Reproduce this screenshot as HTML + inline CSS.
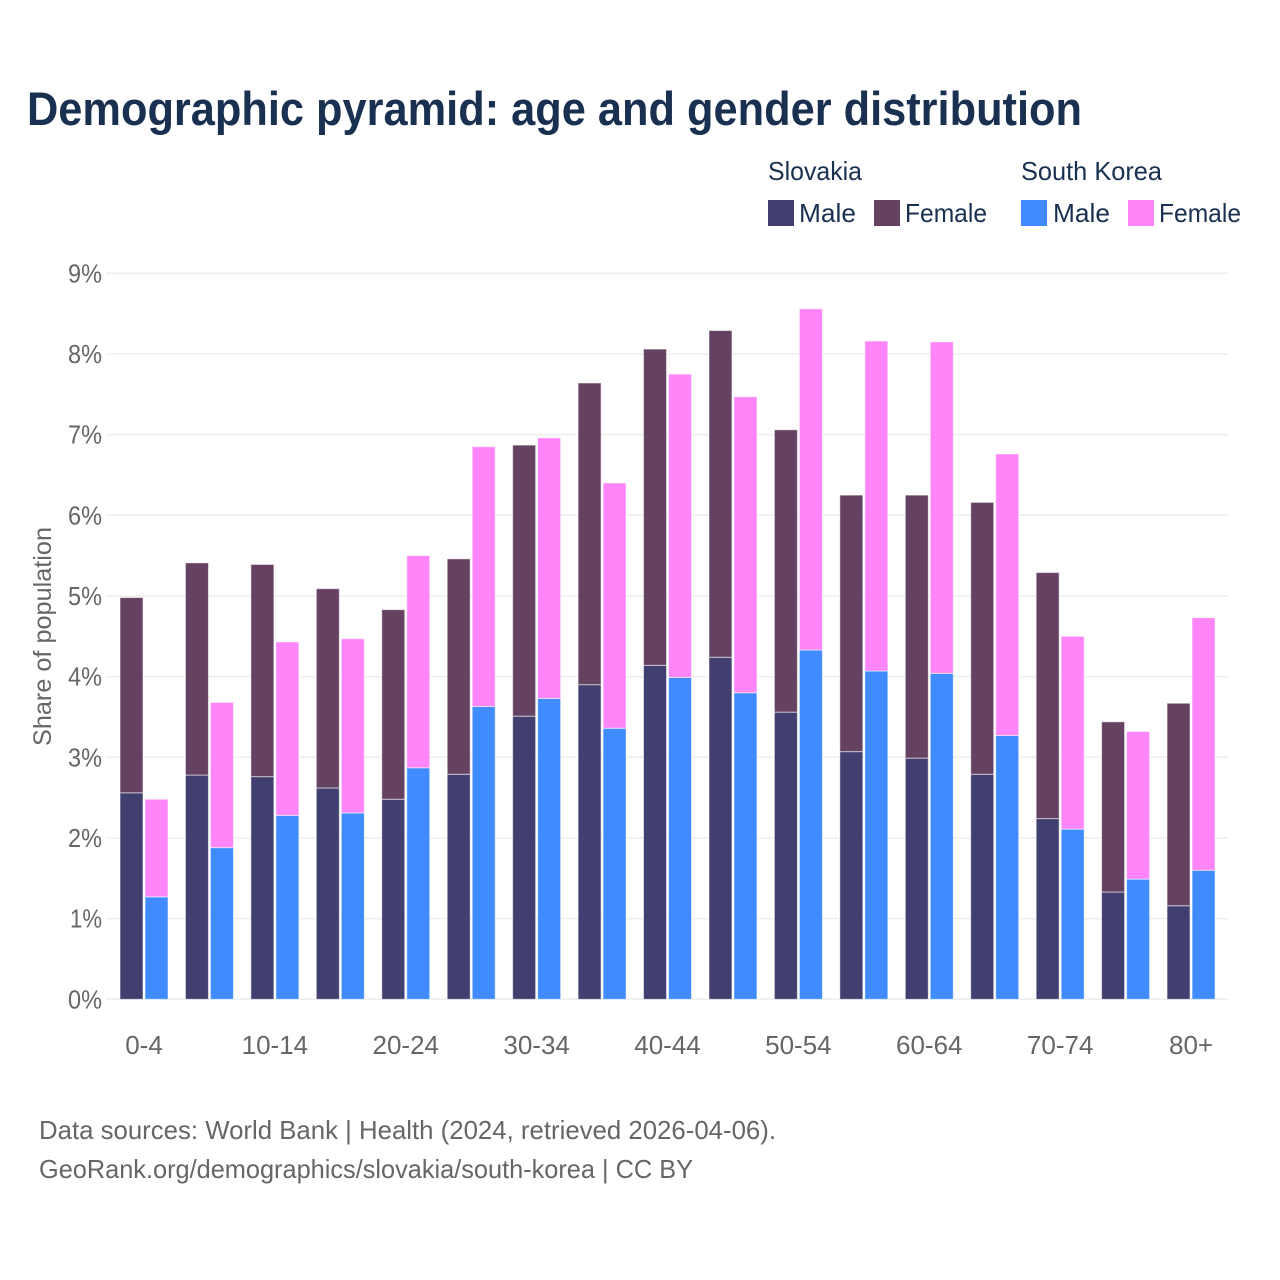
<!DOCTYPE html>
<html lang="en">
<head>
<meta charset="utf-8">
<title>Demographic pyramid: age and gender distribution</title>
<style>
html,body{margin:0;padding:0;background:#fff;width:1280px;height:1280px;overflow:hidden}
svg{display:block;font-family:"Liberation Sans",sans-serif}
</style>
</head>
<body>
<svg id="chart" width="1280" height="1280" viewBox="0 0 1280 1280" xmlns="http://www.w3.org/2000/svg">
  <rect width="1280" height="1280" fill="#ffffff"/>
  <text x="27" y="125" font-size="47" font-weight="700" fill="#1a3050" textLength="1055" lengthAdjust="spacingAndGlyphs">Demographic pyramid: age and gender distribution</text>

  <g font-size="26" fill="#1a3050">
    <text x="768" y="180" textLength="94" lengthAdjust="spacingAndGlyphs">Slovakia</text>
    <text x="1021" y="180" textLength="141" lengthAdjust="spacingAndGlyphs">South Korea</text>
    <rect x="768" y="200" width="26" height="26" fill="#413f6f"/>
    <text x="799" y="222" textLength="57" lengthAdjust="spacingAndGlyphs">Male</text>
    <rect x="874" y="200" width="26" height="26" fill="#654262"/>
    <text x="905" y="222" textLength="82" lengthAdjust="spacingAndGlyphs">Female</text>
    <rect x="1021" y="200" width="26" height="26" fill="#3f8bff"/>
    <text x="1053" y="222" textLength="57" lengthAdjust="spacingAndGlyphs">Male</text>
    <rect x="1128" y="200" width="26" height="26" fill="#ff85f8"/>
    <text x="1159" y="222" textLength="82" lengthAdjust="spacingAndGlyphs">Female</text>
  </g>

  <g id="grid"></g>
  <g id="bars"></g>
  <g id="yticks"></g>
  <g id="xticks"></g>

  <text transform="translate(51,746) rotate(-90)" font-size="25" fill="#666666" textLength="219" lengthAdjust="spacingAndGlyphs">Share of population</text>

  <text x="39" y="1139" font-size="26" fill="#666666" textLength="737" lengthAdjust="spacingAndGlyphs">Data sources: World Bank | Health (2024, retrieved 2026-04-06).</text>
  <text x="39" y="1178" font-size="26" fill="#666666" textLength="654" lengthAdjust="spacingAndGlyphs">GeoRank.org/demographics/slovakia/south-korea | CC BY</text>
</svg>
<script>
const categories = ["0-4","5-9","10-14","15-19","20-24","25-29","30-34","35-39","40-44","45-49","50-54","55-59","60-64","65-69","70-74","75-79","80+"];
const slovakiaMale = [2.56,2.78,2.76,2.62,2.48,2.79,3.51,3.90,4.14,4.24,3.56,3.07,2.99,2.79,2.24,1.33,1.16];
const slovakiaFemale = [2.42,2.63,2.63,2.47,2.35,2.67,3.36,3.74,3.92,4.05,3.50,3.18,3.26,3.37,3.05,2.11,2.51];
const koreaMale = [1.27,1.88,2.28,2.31,2.87,3.63,3.73,3.36,3.99,3.80,4.33,4.07,4.04,3.27,2.11,1.49,1.60];
const koreaFemale = [1.21,1.80,2.15,2.16,2.63,3.22,3.23,3.04,3.76,3.67,4.23,4.09,4.11,3.49,2.39,1.83,3.13];
const yTickValues = [0,1,2,3,4,5,6,7,8,9];

const SVG_NS = "http://www.w3.org/2000/svg";
const plotLeft = 106, plotRight = 1228;
const yZero = 999.3, yPerUnit = 80.67;
const firstCenter = 144, groupStep = 65.44;
const barWidth = 23, barOffset = 24;

function yScale(v){ return yZero - v * yPerUnit; }
function xCenter(i){ return firstCenter + i * groupStep; }
function make(tag, attrs){
  const el = document.createElementNS(SVG_NS, tag);
  for (const k in attrs) el.setAttribute(k, attrs[k]);
  return el;
}

const grid = document.getElementById("grid");
const yticks = document.getElementById("yticks");
yTickValues.forEach(function(v){
  const line = make("line", {x1:plotLeft, x2:plotRight, y1:yScale(v), y2:yScale(v), stroke:"#eeeeee", "stroke-width":1.5});
  
  
  grid.appendChild(line);
  const t = make("text", {x:102, y:yScale(v)+9, "text-anchor":"end", "font-size":26, fill:"#666666", textLength: v===1 ? 32 : 34, lengthAdjust:"spacingAndGlyphs"});
  
  
  t.textContent = v + "%";
  yticks.appendChild(t);
});

const bars = document.getElementById("bars");
function drawBar(x, base, value, color){
  const r = make("rect", {x:x, y:yScale(base+value), width:barWidth, height:value*yPerUnit, fill:color, stroke:"#ffffff", "stroke-opacity":0.55, "stroke-width":1});
  
  
  bars.appendChild(r);
}
categories.forEach(function(c, i){
  const cx = xCenter(i);
  const x1 = cx - barOffset, x2 = cx + barOffset - barWidth;
  drawBar(x1, 0, slovakiaMale[i], "#413f6f");
  drawBar(x1, slovakiaMale[i], slovakiaFemale[i], "#654262");
  drawBar(x2, 0, koreaMale[i], "#3f8bff");
  drawBar(x2, koreaMale[i], koreaFemale[i], "#ff85f8");
});

const xticks = document.getElementById("xticks");
categories.forEach(function(c, i){
  if (i % 2 !== 0) return;
  const t = make("text", {x:xCenter(i), y:1054, "text-anchor":"middle", "font-size":26, fill:"#666666"});
  
  
  t.textContent = c;
  xticks.appendChild(t);
});
</script>
</body>
</html>
